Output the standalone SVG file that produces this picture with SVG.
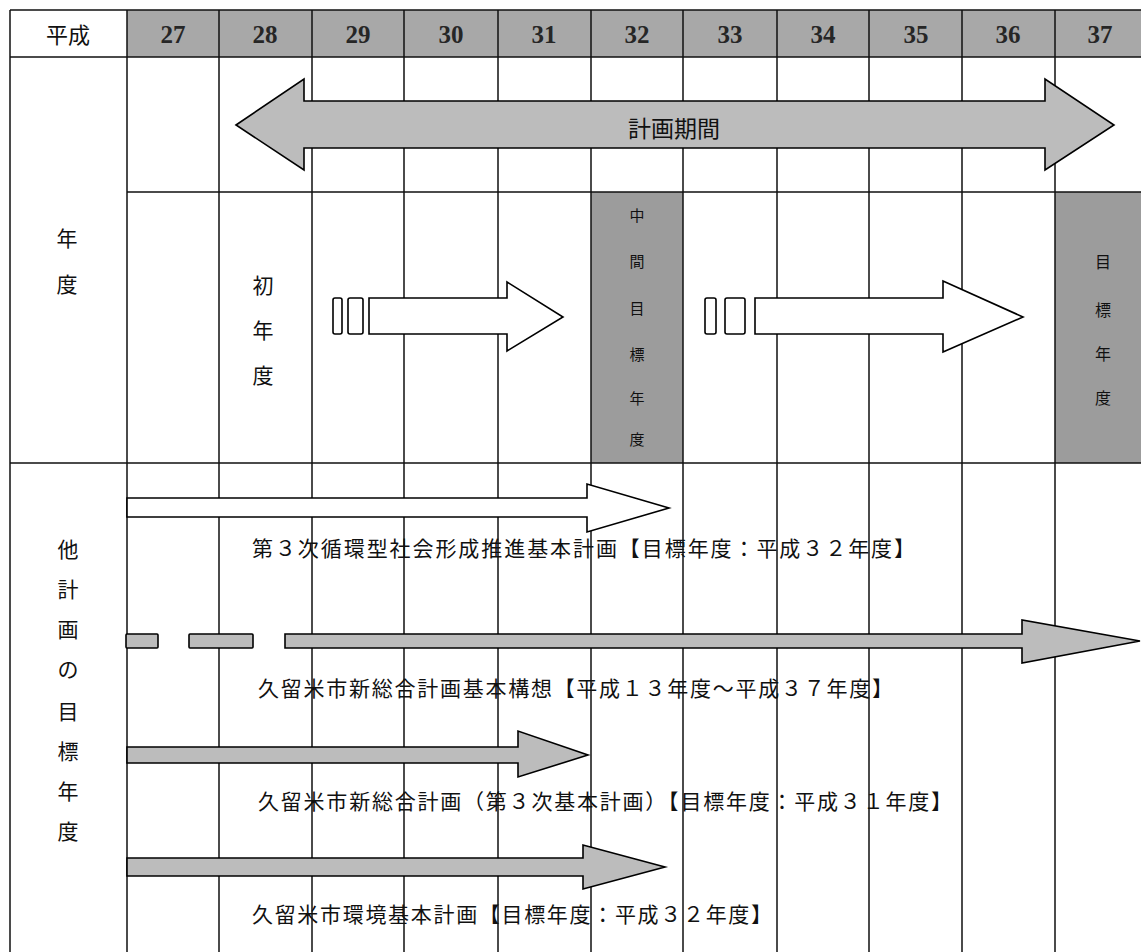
<svg xmlns="http://www.w3.org/2000/svg" width="1141" height="952" viewBox="0 0 1141 952">
<style>
.grid{stroke:#111;stroke-width:1.5;fill:none}
.hdr{fill:#a8a8a8}
.cellg{fill:#9c9c9c}
.jp{font-family:"Noto Sans CJK JP","Noto Sans",sans-serif;fill:#111}
.num{font-family:"Liberation Serif",serif;font-weight:bold;font-size:25px;fill:#262626;text-anchor:middle;dominant-baseline:central}
.lbl{font-size:21px;dominant-baseline:central}
.vt{text-anchor:middle;dominant-baseline:central}
.wa{fill:#fff;stroke:#000;stroke-width:1.6;stroke-linejoin:miter}
.ga{fill:#bcbcbc;stroke:#000;stroke-width:1.6;stroke-linejoin:miter}
</style>
<rect width="1141" height="952" fill="#fff"/>
<g id="header">
<rect class="hdr" x="127" y="10" width="1014" height="47"/>
<text class="jp" x="68" y="33" font-size="22" text-anchor="middle" dominant-baseline="central">平成</text>
<text class="num" x="173" y="34">27</text>
<text class="num" x="265" y="34">28</text>
<text class="num" x="358" y="34">29</text>
<text class="num" x="451" y="34">30</text>
<text class="num" x="544" y="34">31</text>
<text class="num" x="637" y="34">32</text>
<text class="num" x="730" y="34">33</text>
<text class="num" x="823" y="34">34</text>
<text class="num" x="916" y="34">35</text>
<text class="num" x="1008" y="34">36</text>
<text class="num" x="1100" y="34">37</text>
</g>
<g id="target-cells">
<rect class="cellg" x="591" y="192" width="92" height="271"/>
<rect class="cellg" x="1055" y="192" width="86" height="271"/>
</g>
<g id="grid">
<path class="grid" d="M10 10H1141M10 57H1141M127 192H1141M10 463H1141M10 10V952M127 10V952M219 10V952M312 10V952M404 10V952M498 10V952M591 10V952M683 10V952M777 10V952M869 10V952M962 10V952M1055 10V952"/>
</g>
<g id="label-nendo">
<text class="jp vt" x="67" y="237" font-size="21">年</text>
<text class="jp vt" x="67" y="283" font-size="21">度</text>
</g>
<g id="label-shonendo">
<text class="jp vt" x="263" y="284" font-size="21">初</text>
<text class="jp vt" x="263" y="329" font-size="21">年</text>
<text class="jp vt" x="263" y="374" font-size="21">度</text>
</g>
<g id="label-chukan">
<text class="jp vt" x="637" y="214" font-size="15">中</text>
<text class="jp vt" x="637" y="260" font-size="15">間</text>
<text class="jp vt" x="637" y="307" font-size="15">目</text>
<text class="jp vt" x="637" y="353" font-size="15">標</text>
<text class="jp vt" x="637" y="397" font-size="15">年</text>
<text class="jp vt" x="637" y="438" font-size="15">度</text>
</g>
<g id="label-mokuhyo">
<text class="jp vt" x="1103" y="261" font-size="16">目</text>
<text class="jp vt" x="1103" y="309" font-size="16">標</text>
<text class="jp vt" x="1103" y="353" font-size="16">年</text>
<text class="jp vt" x="1103" y="397" font-size="16">度</text>
</g>
<g id="label-takeikaku">
<text class="jp vt" x="68" y="548" font-size="21">他</text>
<text class="jp vt" x="68" y="588" font-size="21">計</text>
<text class="jp vt" x="68" y="628" font-size="21">画</text>
<text class="jp vt" x="68" y="668" font-size="21">の</text>
<text class="jp vt" x="68" y="710" font-size="21">目</text>
<text class="jp vt" x="68" y="750" font-size="21">標</text>
<text class="jp vt" x="68" y="790" font-size="21">年</text>
<text class="jp vt" x="68" y="830" font-size="21">度</text>
</g>
<g id="connectors">
<polygon class="ga" points="236,125 304,79 304,101 1045,101 1045,79 1114,125 1045,170 1045,148 304,148 304,170"/>
<rect class="wa" x="333" y="298" width="9" height="36" rx="2"/>
<rect class="wa" x="348" y="298" width="15" height="36" rx="2"/>
<polygon class="wa" points="369,298 507,298 507,282 563,317 507,351 507,334 369,334"/>
<rect class="wa" x="705" y="298" width="11" height="36" rx="2"/>
<rect class="wa" x="725" y="298" width="20" height="36" rx="2"/>
<polygon class="wa" points="755,298 943,298 943,281 1023,317 943,352 943,334 755,334"/>
<polygon class="wa" points="127,498 587,498 587,484 669,508 587,532 587,517 127,517"/>
<rect class="ga" x="126" y="634" width="32" height="14" rx="1"/>
<rect class="ga" x="189" y="634" width="64" height="14" rx="1"/>
<polygon class="ga" points="285,634 1022,634 1022,620 1140,641 1022,663 1022,648 285,648"/>
<polygon class="ga" points="127,747 518,747 518,731 588,755 518,777 518,763 127,763"/>
<polygon class="ga" points="127,858 583,858 583,845 665,867 583,889 583,876 127,876"/>
</g>
<g id="label-keikakukikan">
<text class="jp" x="674" y="127" font-size="23" text-anchor="middle" dominant-baseline="central">計画期間</text>
</g>
<g id="plan-labels">
<text class="jp lbl" x="252" y="547" textLength="663" lengthAdjust="spacing">第３次循環型社会形成推進基本計画【目標年度：平成３２年度】</text>
<text class="jp lbl" x="258" y="687" textLength="635" lengthAdjust="spacing">久留米市新総合計画基本構想【平成１３年度～平成３７年度】</text>
<text class="jp lbl" x="258" y="800" textLength="694" lengthAdjust="spacing">久留米市新総合計画（第３次基本計画）【目標年度：平成３１年度】</text>
<text class="jp lbl" x="252" y="913" textLength="520" lengthAdjust="spacing">久留米市環境基本計画【目標年度：平成３２年度】</text>
</g>
</svg>
